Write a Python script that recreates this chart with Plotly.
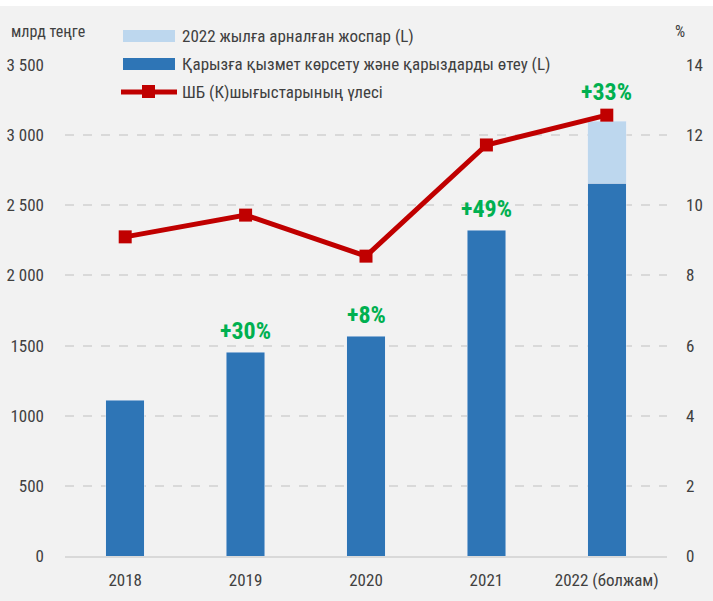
import plotly.graph_objects as go

years = ["2018", "2019", "2020", "2021", "2022 (болжам)"]
debt_service = [1112, 1454, 1568, 2323, 2658]
plan_2022_extra = [None, None, None, None, 442]
gdp_share = [9.10, 9.72, 8.55, 11.72, 12.57]
growth_labels = ["", "+30%", "+8%", "+49%", "+33%"]
left_ticks = [0, 500, 1000, 1500, 2000, 2500, 3000, 3500]
left_tick_text = ["0", "500", "1000", "1500", "2 000", "2 500", "3 000", "3 500"]
right_ticks = [0, 2, 4, 6, 8, 10, 12, 14]

legend_names = [
    "2022 жылға арналған жоспар (L)",
    "Қарызға қызмет көрсету және қарыздарды өтеу (L)",
    "ШБ (К)шығыстарының үлесі",
]

FONT = "Liberation Sans Narrow, Roboto Condensed, Roboto, sans-serif"
DARK = "#2e75b6"
LIGHT = "#bdd7ee"
RED = "#c00000"
GREEN = "#00b050"
TXT = "#404040"

W, H = 713, 601
L, R, T, B = 65, 46, 65, 45
pw, ph = W - L - R, H - T - B


def px(x):
    return (x - L) / pw


def py(y):
    return (H - B - y) / ph


fig = go.Figure()
fig.add_trace(go.Bar(x=years, y=debt_service, marker_color=DARK, width=0.32,
                     name=legend_names[1], showlegend=False))
fig.add_trace(go.Bar(x=years, y=plan_2022_extra, marker_color=LIGHT, width=0.32,
                     name=legend_names[0], showlegend=False))
fig.add_trace(go.Scatter(x=years, y=gdp_share, yaxis="y2", mode="lines+markers",
                         line=dict(color=RED, width=5),
                         marker=dict(symbol="square", size=13, color=RED),
                         name=legend_names[2], showlegend=False))

totals = [d + (p or 0) for d, p in zip(debt_service, plan_2022_extra)]
for i, lab in enumerate(growth_labels):
    if not lab:
        continue
    # category index position (numeric-looking strings would be read as indices)
    fig.add_annotation(x=i, y=totals[i], xref="x", yref="y",
                       text="<b>" + lab + "</b>", showarrow=False,
                       yanchor="bottom", yshift=13 if i == 4 else 5,
                       font=dict(family=FONT, size=24, color=GREEN))

shapes = []
# white strip at top
shapes.append(dict(type="rect", xref="paper", yref="paper", x0=px(0), x1=px(W),
                   y0=py(6), y1=py(-2), fillcolor="white", line=dict(width=0),
                   layer="below"))
# legend rows
rows = [(36, LIGHT, "bar"), (64, DARK, "bar"), (92, RED, "line")]
for (cy, col, kind), name in zip(rows, legend_names):
    if kind == "bar":
        shapes.append(dict(type="rect", xref="paper", yref="paper",
                           x0=px(123), x1=px(175), y0=py(cy + 6), y1=py(cy - 6),
                           fillcolor=col, line=dict(width=0)))
    else:
        shapes.append(dict(type="line", xref="paper", yref="paper",
                           x0=px(121), x1=px(177), y0=py(cy), y1=py(cy),
                           line=dict(color=col, width=5)))
        shapes.append(dict(type="rect", xref="paper", yref="paper",
                           x0=px(142), x1=px(155), y0=py(cy + 6), y1=py(cy - 7),
                           fillcolor=col, line=dict(width=0)))
    fig.add_annotation(xref="paper", yref="paper", x=px(180), y=py(cy), text=name,
                       showarrow=False, xanchor="left", yanchor="middle",
                       font=dict(family=FONT, size=17, color=TXT))
fig.add_annotation(xref="paper", yref="paper", x=px(9), y=py(32), text="млрд теңге",
                   showarrow=False, xanchor="left", yanchor="middle",
                   font=dict(family=FONT, size=16, color=TXT))
fig.add_annotation(xref="paper", yref="paper", x=px(687), y=py(32), text="%",
                   showarrow=False, xanchor="right", yanchor="middle",
                   font=dict(family=FONT, size=16, color=TXT))

fig.update_layout(
    width=W, height=H,
    margin=dict(l=L, r=R, t=T, b=B, pad=0),
    paper_bgcolor="#f2f2f2", plot_bgcolor="#f2f2f2",
    barmode="stack", bargap=0.68,
    font=dict(family=FONT, size=17, color=TXT),
    shapes=shapes,
    xaxis=dict(type="category", range=[-0.5, 4.5], autorange=False,
               showgrid=False, showline=True, linecolor="#d9d9d9",
               linewidth=2, ticks="", automargin=False, ticklabelstandoff=8,
               tickfont=dict(size=17, color=TXT)),
    yaxis=dict(range=[0, 3500], tickvals=left_ticks, ticktext=left_tick_text,
               showgrid=True, gridcolor="#d9d9d9", griddash="dash", gridwidth=2,
               zeroline=False, ticks="", ticklabelstandoff=20, automargin=False,
               tickfont=dict(size=17, color=TXT)),
    yaxis2=dict(range=[0, 14], tickvals=right_ticks, overlaying="y", side="right",
                showgrid=False, zeroline=False, ticks="", ticklabelstandoff=18,
                automargin=False, tickfont=dict(size=17, color=TXT)),
    showlegend=False,
)

fig.write_html("out.html", config={"displayModeBar": False},
               post_script="document.body.style.margin='0';")
